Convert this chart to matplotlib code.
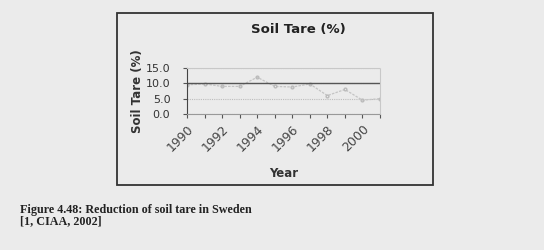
import numpy as np
import matplotlib.pyplot as plt
from matplotlib.patches import Rectangle

# soil tare in Sweden
years = [1990, 1991, 1992, 1993, 1994, 1995, 1996, 1997, 1998, 1999, 2000, 2001]
soil_tare = [9.5, 9.8, 9.0, 9.0, 12.0, 9.0, 8.8, 9.8, 6.0, 8.0, 4.5, 5.0]
target = [10.0] * len(years)
ytick_vals = [0.0, 5.0, 10.0, 15.0]
xtick_labels = ['1990', '1992', '1994', '1996', '1998', '2000']

W, H = 544, 250
paper = '#ebebeb'
fig = plt.figure(figsize=(W / 100, H / 100), dpi=100, facecolor=paper)

# frame around the chart
fig.patches.append(Rectangle((117 / W, 1 - 185 / H), (433 - 117) / W, (185 - 13) / H,
                             transform=fig.transFigure, fill=False,
                             edgecolor='#333333', linewidth=1.3))

ax = fig.add_axes([187 / W, 1 - 114 / H, (380 - 187) / W, (114 - 68) / H])
ax.set_facecolor(paper)
ax.plot(years, soil_tare, color='#c4c4c4', linewidth=0.9, linestyle=(0, (2, 1)),
        marker='o', markersize=2, markerfacecolor='none', markeredgecolor='#bbbbbb')
ax.plot(years, target, color='#555555', linewidth=1.0)

ax.set_xlim(years[0], years[-1])
ax.set_ylim(0, 15)
ax.set_yticks(ytick_vals)
ax.set_yticklabels([f'{v:.1f}' for v in ytick_vals], fontsize=8, color='#333333')
ax.set_xticks(years)
ax.set_xticklabels([str(y) if str(y) in xtick_labels else '' for y in years],
                   rotation=45, ha='right', rotation_mode='anchor',
                   fontsize=9, color='#444444')
ax.tick_params(axis='x', length=3, color='#555555', pad=3)
ax.tick_params(axis='y', length=3, color='#555555', pad=9)
ax.grid(axis='y', color='#bdbdbd', linestyle=(0, (1, 1)), linewidth=0.8)
for s in ['top', 'right']:
    ax.spines[s].set_color('#c8c8c8')
    ax.spines[s].set_linestyle((0, (1, 1)))
ax.spines['left'].set_color('#444444')
ax.spines['bottom'].set_color('#999999')
ax.spines['bottom'].set_linestyle((0, (1, 1)))

ax.set_ylabel('Soil Tare (%)', fontsize=8.5, fontweight='bold', color='#333333', labelpad=1)
ax.set_xlabel('Year', fontsize=8.5, fontweight='bold', color='#333333', labelpad=9)

fig.text(298 / W, 1 - 30 / H, 'Soil Tare (%)', ha='center', va='center',
         fontsize=9.5, fontweight='bold', color='#222222')

fig.text(20 / W, 1 - 210 / H, 'Figure 4.48: Reduction of soil tare in Sweden',
         fontsize=8.7, fontweight='bold', family='Liberation Serif', color='#222222', va='center')
fig.text(20 / W, 1 - 221 / H, '[1, CIAA, 2002]',
         fontsize=8.7, fontweight='bold', family='Liberation Serif', color='#222222', va='center')

plt.savefig('out.png', dpi=100, facecolor=paper)
